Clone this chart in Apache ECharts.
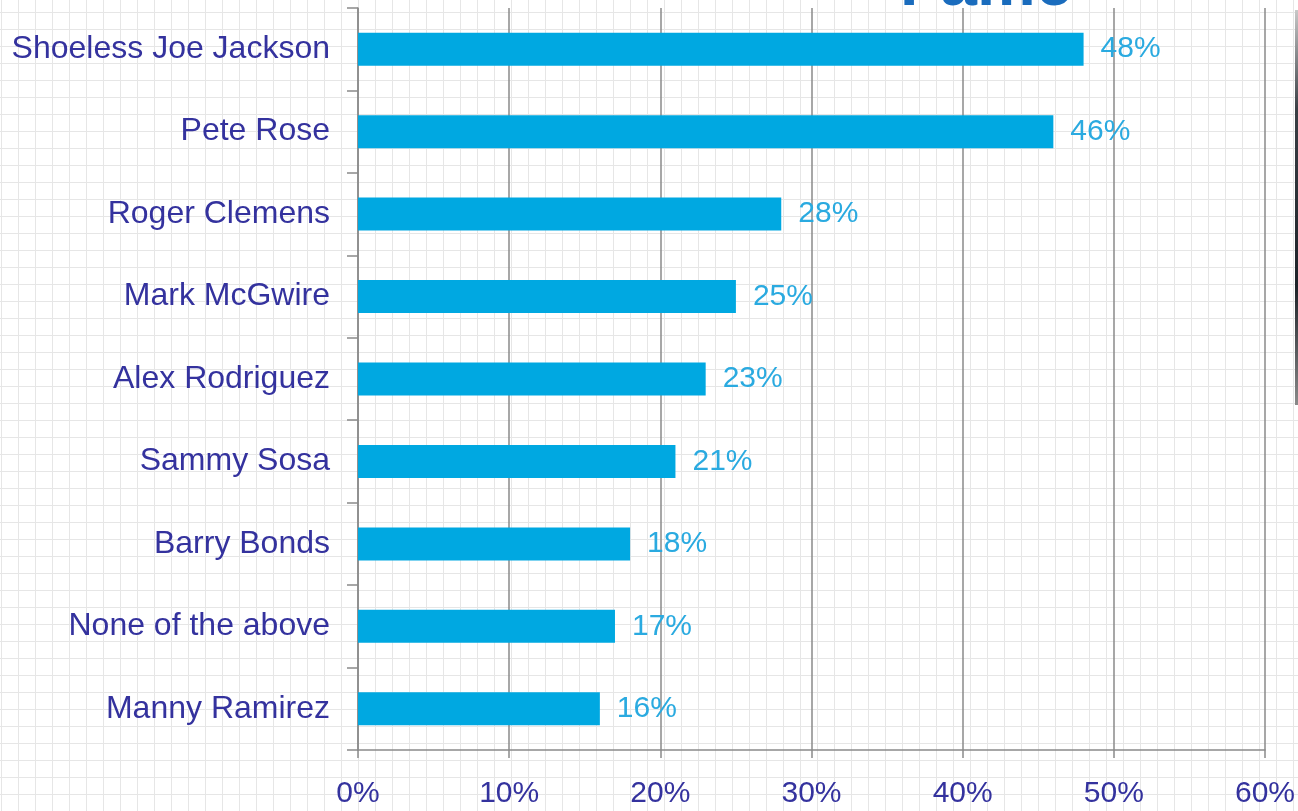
<!DOCTYPE html>
<html>
<head>
<meta charset="UTF-8">
<title>Fame</title>
<script src="https://cdn.jsdelivr.net/npm/echarts@6/dist/echarts.min.js"></script>
<style>
	html, body{
		margin:0;
		padding:0;
		width:100%;
		height:100%;
		overflow:hidden;
		background-color:#ffffff;
		background-image:
			linear-gradient(to right, #e6e6e6 1.5px, transparent 1.5px),
			linear-gradient(to bottom, #e6e6e6 1.5px, transparent 1.5px);
		background-size:17px 17px;
		background-position:1px 12px;
	}
	#main{
		width:1298px;
		height:811px;
	}
</style>
</head>
<body>
<div id="main"></div>
<script>
// 数据
var players = ['Shoeless Joe Jackson', 'Pete Rose', 'Roger Clemens', 'Mark McGwire', 'Alex Rodriguez', 'Sammy Sosa', 'Barry Bonds', 'None of the above', 'Manny Ramirez'];
var percents = [48, 46, 28, 25, 23, 21, 18, 17, 16];
var xTicks = [0, 10, 20, 30, 40, 50, 60];

var chart = echarts.init(document.getElementById('main'));
var option = {
	backgroundColor: 'transparent',
	animation: false,
	textStyle: {
		fontFamily: 'Liberation Sans, Arial, sans-serif'
	},
	graphic: [
		{
			type: 'text',
			x: 900,
			y: -13,
			z: 100,
			style: {
				text: 'Fame',
				fontSize: 66,
				fontWeight: 'bold',
				fontFamily: 'Liberation Sans, Arial, sans-serif',
				fill: '#1a6cbd',
				verticalAlign: 'middle',
				align: 'left'
			}
		},
		{
			type: 'rect',
			shape: { x: 1295, y: 10, width: 3, height: 395 },
			style: {
				fill: new echarts.graphic.LinearGradient(0, 0, 0, 1, [
					{ offset: 0, color: '#c8c8c8' },
					{ offset: 0.25, color: '#3a3f45' },
					{ offset: 0.7, color: '#1e2329' },
					{ offset: 1, color: '#8a8a8a' }
				])
			}
		}
	],
	grid: {
		left: 358,
		right: 32,
		top: 8,
		bottom: 61
	},
	xAxis: {
		type: 'value',
		min: xTicks[0],
		max: xTicks[xTicks.length - 1],
		interval: 10,
		axisLine: {
			show: true,
			lineStyle: { color: '#8a8a8a', width: 1.5 }
		},
		axisTick: {
			show: true,
			length: 8,
			lineStyle: { color: '#8a8a8a', width: 1.5 }
		},
		splitLine: {
			show: true,
			lineStyle: { color: '#8a8a8a', width: 1.5 }
		},
		axisLabel: {
			formatter: '{value}%',
			fontSize: 30,
			color: '#34329e',
			margin: 29
		}
	},
	yAxis: {
		type: 'category',
		inverse: true,
		data: players,
		axisLine: {
			show: true,
			lineStyle: { color: '#8a8a8a', width: 1.5 }
		},
		axisTick: {
			show: true,
			length: 11,
			lineStyle: { color: '#8a8a8a', width: 1.5 }
		},
		splitLine: { show: false },
		axisLabel: {
			fontSize: 32,
			color: '#34329e',
			margin: 28
		}
	},
	series: [
		{
			type: 'bar',
			data: percents,
			barWidth: 33,
			itemStyle: { color: '#00a8e1' },
			label: {
				show: true,
				position: 'right',
				distance: 17,
				formatter: '{c}%',
				fontSize: 30,
				color: '#2aaae0'
			}
		}
	]
};
chart.setOption(option);
</script>
</body>
</html>
